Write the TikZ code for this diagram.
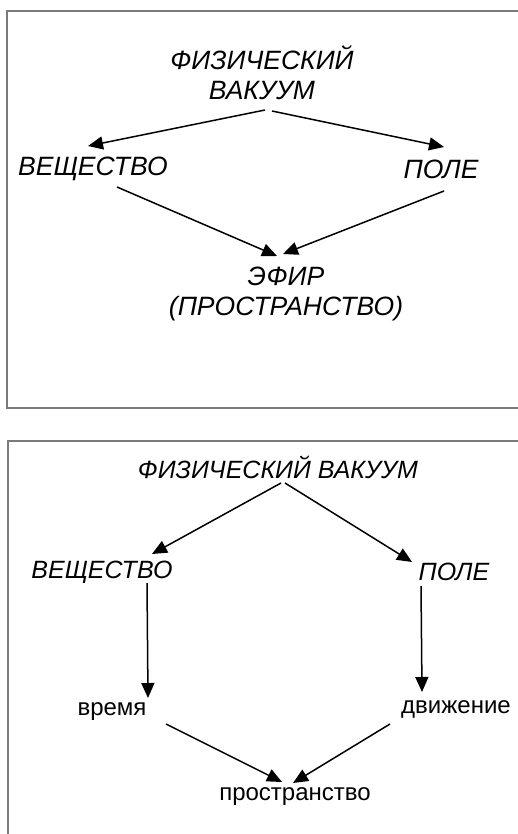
\documentclass[tikz,border=0pt]{standalone}
\usepackage{fontspec}
\setmainfont{Liberation Sans}
\usetikzlibrary{arrows.meta,calc}
\tikzset{
  capA/.style={font=\fontsize{26.5}{30}\selectfont\itshape, inner sep=0pt, anchor=base},
  capB/.style={font=\fontsize{25}{28}\selectfont\itshape, inner sep=0pt, anchor=base},
  low/.style={font=\fontsize{24}{28}\selectfont, inner sep=0pt, anchor=base},
  arr/.style={line width=1.5pt, -{Triangle[length=15pt,width=13pt]}},
  frame/.style={draw=black!52, line width=1.5pt}
}
\begin{document}
\begin{tikzpicture}[x=1pt,y=-1pt]
\useasboundingbox (0,0) rectangle (518,834);
\clip (0,0) rectangle (518,834);
\fill[white] (0,0) rectangle (518,834);
% frames
\draw[frame] (530,11) -- (7,11) -- (7,408) -- (530,408);
\draw[frame] (530,441) -- (8,441) -- (8,850);
% top diagram
\node[capA] (fiz) at (262,70) {ФИЗИЧЕСКИЙ};
\node[capA] (vak) at (262,100) {ВАКУУМ};
\node[capA] (vesh) at (93,176) {ВЕЩЕСТВО};
\node[capA] (pole) at (441,179) {ПОЛЕ};
\node[capA] (efir) at (286,285) {ЭФИР};
\node[capA] (prost) at (286,315) {(ПРОСТРАНСТВО)};
\draw[arr] ($(vak.base)+(3,10)$) -- ($(vesh.base)+(-5,-30)$);
\draw[arr] ($(vak.base)+(10,11)$) -- ($(pole.base)+(3,-32)$);
\draw[arr] ($(vesh.base)+(24,11)$) -- ($(efir.base)+(-9,-29)$);
\draw[arr] ($(pole.base)+(3,12)$) -- ($(efir.base)+(-3,-31)$);
% bottom diagram
\node[capB] (vacB) at (278,478) {ФИЗИЧЕСКИЙ ВАКУУМ};
\node[capB] (veshB) at (102,578) {ВЕЩЕСТВО};
\node[capB] (poleB) at (454,580) {ПОЛЕ};
\node[low] (vrem) at (112,715) {время};
\node[low] (dviz) at (456,713) {движение};
\node[low] (prostB) at (295,800) {пространство};
\draw[arr] ($(vacB.base)+(3,5)$) -- ($(veshB.base)+(50,-24)$);
\draw[arr] ($(vacB.base)+(7,5)$) -- ($(poleB.base)+(-42,-18)$);
\draw[arr] ($(veshB.base)+(45,5)$) -- ($(vrem.base)+(36,-17)$);
\draw[arr] ($(poleB.base)+(-33,6)$) -- ($(dviz.base)+(-34,-21)$);
\draw[arr] ($(vrem.base)+(54,9)$) -- ($(prostB.base)+(-13,-18)$);
\draw[arr] ($(dviz.base)+(-66,11)$) -- ($(prostB.base)+(-2,-17)$);
\end{tikzpicture}
\end{document}
